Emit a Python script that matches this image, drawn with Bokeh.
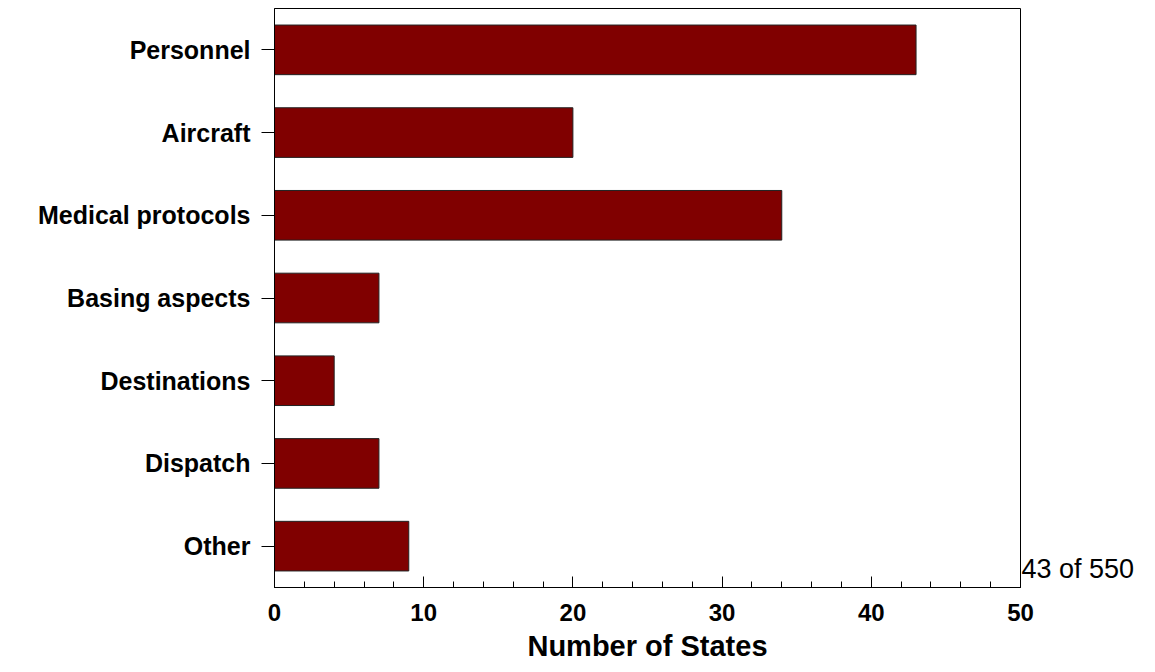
from bokeh.plotting import figure
from bokeh.models import (FactorRange, Range1d, SingleIntervalTicker, CategoricalAxis)
from bokeh.embed import file_html
from bokeh.resources import INLINE

categories = ["Personnel", "Aircraft", "Medical protocols", "Basing aspects",
              "Destinations", "Dispatch", "Other"]
values = [43, 20, 34, 7, 4, 7, 9]
x_axis_title = "Number of States"
page_note = "43 of 550"

FONT = "Liberation Sans"

p = figure(width=1155, height=672, output_backend="svg", toolbar_location=None,
           y_range=FactorRange(factors=categories[::-1]), x_range=Range1d(0, 50),
           min_border_left=274, min_border_right=135, min_border_top=8,
           min_border_bottom=85)

p.hbar(y=categories, right=values, left=0, height=0.6,
       fill_color="#800000", line_color="#222222", line_width=1)

p.background_fill_color = "white"
p.border_fill_color = "white"
p.outline_line_color = "black"
p.outline_line_width = 1
p.xgrid.visible = False
p.ygrid.visible = False

xa = p.xaxis[0]
xa.ticker = SingleIntervalTicker(interval=10, num_minor_ticks=5)
xa.major_tick_in = 11
xa.major_tick_out = 0
xa.minor_tick_in = 6
xa.minor_tick_out = 0
xa.axis_line_color = "black"
xa.major_tick_line_color = "black"
xa.minor_tick_line_color = "black"
xa.major_label_text_font = FONT
xa.major_label_text_font_style = "bold"
xa.major_label_text_font_size = "24px"
xa.major_label_text_color = "black"
xa.major_label_standoff = 16
xa.axis_label = x_axis_title
xa.axis_label_text_font = FONT
xa.axis_label_text_font_style = "bold"
xa.axis_label_text_font_size = "29px"
xa.axis_label_text_color = "black"
xa.axis_label_standoff = 6

ya = p.yaxis[0]
ya.major_tick_in = 0
ya.major_tick_out = 13
ya.minor_tick_line_color = None
ya.axis_line_color = "black"
ya.major_tick_line_color = "black"
ya.major_label_text_font = FONT
ya.major_label_text_font_style = "bold"
ya.major_label_text_font_size = "25px"
ya.major_label_text_color = "black"
ya.major_label_standoff = 11

# page note to the right of the frame, drawn as a right-hand categorical axis
# whose only visible factor sits in the lowest of 16 equal slots
note_slots = [page_note] + [" " * k for k in range(1, 16)]
p.extra_y_ranges = {"note": FactorRange(factors=note_slots)}
note_axis = CategoricalAxis(y_range_name="note")
note_axis.axis_line_color = None
note_axis.major_tick_line_color = None
note_axis.minor_tick_line_color = None
note_axis.major_tick_in = 0
note_axis.major_tick_out = 0
note_axis.major_label_standoff = 1
note_axis.major_label_text_font = FONT
note_axis.major_label_text_font_size = "27px"
note_axis.major_label_text_color = "black"
p.add_layout(note_axis, "right")

open("out.html", "w").write(file_html(p, INLINE))
